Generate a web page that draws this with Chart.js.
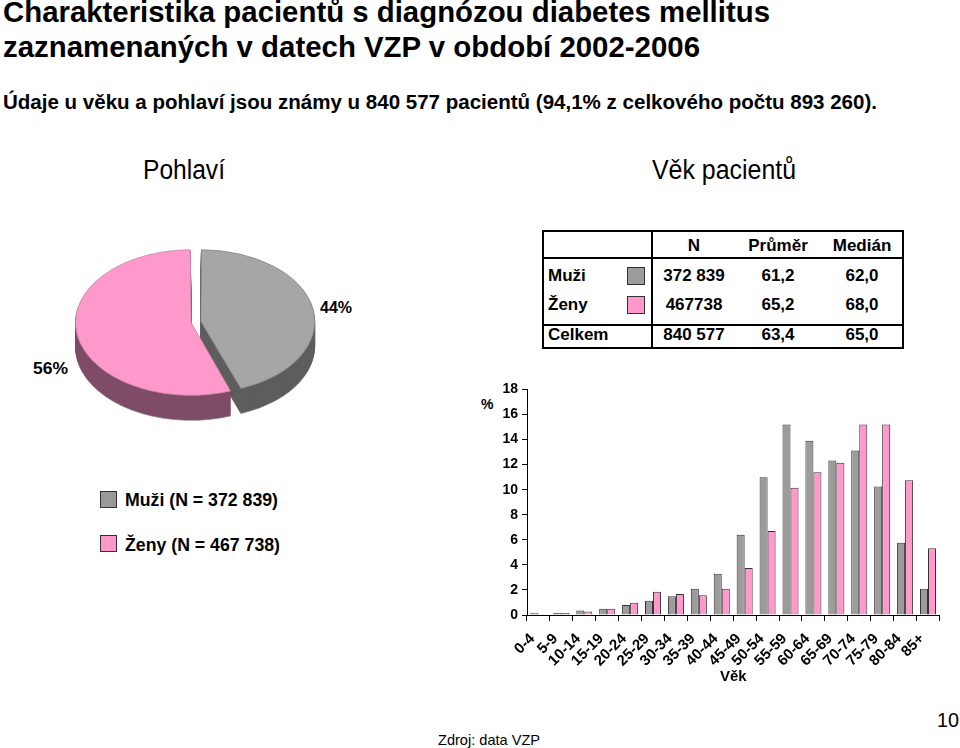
<!DOCTYPE html>
<html><head><meta charset="utf-8">
<script src="https://cdn.jsdelivr.net/npm/chart.js@4.4.0/dist/chart.umd.min.js"></script>
<style>
html,body{margin:0;padding:0;background:#fff;}
body{width:960px;height:748px;position:relative;overflow:hidden;font-family:"Liberation Sans",Arial,sans-serif;color:#000;}
.t{position:absolute;white-space:nowrap;line-height:1;transform-origin:0 0;}
.b{font-weight:bold;}
#pieWrap{position:absolute;left:75px;top:172px;width:242px;height:300px;}
#barWrap{position:absolute;left:470px;top:377px;width:480px;height:313px;}
.sw{position:absolute;width:17px;height:17px;box-sizing:border-box;border:1px solid #333;}
.ln{position:absolute;background:#000;}
</style>
</head><body>

<div class="t b" style="left:3px;top:-2px;font-size:29px" data-w="767">Charakteristika pacientů s diagnózou diabetes mellitus</div>
<div class="t b" style="left:3px;top:33px;font-size:29px" data-w="697">zaznamenaných v datech VZP v období 2002-2006</div>
<div class="t b" style="left:3px;top:92px;font-size:20px" data-w="874">Údaje u věku a pohlaví jsou známy u 840 577 pacientů (94,1% z celkového počtu 893 260).</div>

<div class="t" style="left:143px;top:157px;font-size:27px" data-w="82">Pohlaví</div>
<div class="t" style="left:652px;top:157px;font-size:27px" data-w="144">Věk pacientů</div>

<div id="pieWrap"><canvas id="pie"></canvas></div>

<div class="sw" style="left:100px;top:491px;background:#999999"></div>
<div class="sw" style="left:100px;top:535px;background:#FF99CC"></div>

<div id="table"></div>

<div class="t b" style="left:481px;top:397px;font-size:14px">%</div>
<div id="barWrap"><canvas id="bar"></canvas></div>

<div class="t" style="left:438px;top:732px;font-size:15px" data-w="102">Zdroj: data VZP</div>
<div class="t" style="left:937px;top:710px;font-size:20px" data-w="22">10</div>

<script>
// ---- data ----
const ageGroups = ['0-4','5-9','10-14','15-19','20-24','25-29','30-34','35-39','40-44','45-49','50-54','55-59','60-64','65-69','70-74','75-79','80-84','85+'];
const menPct   = [0.18,0.15,0.35,0.5,0.8,1.13,1.5,2.1,3.3,6.4,11.0,15.2,13.9,12.33,13.13,10.25,5.77,2.1];
const womenPct = [0.05,0.15,0.28,0.5,0.98,1.85,1.68,1.58,2.1,3.75,6.7,10.15,11.38,12.15,15.2,15.2,10.75,5.32];
const yTicks = [0,2,4,6,8,10,12,14,16,18];

const sexLabels = ['Muži','Ženy'];
const sexCounts = [372839, 467738];
const legendLabels = ['Muži (N = 372 839)','Ženy (N = 467 738)'];

const tableHeader = ['N','Průměr','Medián'];
const tableRows = ['Muži','Ženy','Celkem'];
const tableN = ['372 839','467738','840 577'];
const tableMean = ['61,2','65,2','63,4'];
const tableMedian = ['62,0','68,0','65,0'];

const GREY = '#9C9C9C', PINK = '#FF99CC';
const GREY_TOP = '#A6A6A6';
const GREY_SIDE = '#5E5E5E', PINK_SIDE = '#7F4C68';
const FONT = '"Liberation Sans", Arial, sans-serif';

// ---- html texts ----
function addText(parent, txt, style, w, cls){
  const d = document.createElement('div');
  d.className = 't ' + (cls||'');
  d.textContent = txt;
  d.setAttribute('style', style);
  if (w) d.dataset.w = w;
  parent.appendChild(d);
  return d;
}
const body = document.body;
const total = sexCounts[0] + sexCounts[1];
const pct = sexCounts.map(v => Math.round(v / total * 100) + '%');
addText(body, pct[0], 'left:320px;top:299px;font-size:17px', 32, 'b');
addText(body, pct[1], 'left:33px;top:360px;font-size:17px', 35, 'b');
addText(body, legendLabels[0], 'left:125px;top:491px;font-size:18px', 153, 'b');
addText(body, legendLabels[1], 'left:125px;top:536px;font-size:18px', 155, 'b');

// table
const tb = document.getElementById('table');
function line(l,t,w,h){const d=document.createElement('div');d.className='ln';d.style.cssText=`left:${l}px;top:${t}px;width:${w}px;height:${h}px`;tb.appendChild(d);}
line(542,230,362,2); line(542,347,362,2); line(542,230,2,119); line(902,230,2,119);
line(651,230,2,119); line(542,257,362,2); line(542,324,362,2);
const colX = [694, 778, 862];
const rowY = [268, 297, 327];
const TF = 'font-size:17px';
tableHeader.forEach((h,i)=> addText(tb, h, `left:${colX[i]-60}px;width:120px;text-align:center;top:237px;${TF}`, null, 'b'));
tableRows.forEach((r,i)=>{
  addText(tb, r, `left:548px;top:${rowY[i]-1}px;${TF}`, null, 'b');
  addText(tb, tableN[i], `left:${colX[0]-60}px;width:120px;text-align:center;top:${rowY[i]-1}px;${TF}`, null, 'b');
  addText(tb, tableMean[i], `left:${colX[1]-60}px;width:120px;text-align:center;top:${rowY[i]-1}px;${TF}`, null, 'b');
  addText(tb, tableMedian[i], `left:${colX[2]-60}px;width:120px;text-align:center;top:${rowY[i]-1}px;${TF}`, null, 'b');
});
[GREY, PINK].forEach((c,i)=>{const s=document.createElement('div');s.className='sw';s.style.cssText=`left:627px;top:${rowY[i]-1}px;width:18px;height:18px;background:${c}`;tb.appendChild(s);});

// fit widths
document.querySelectorAll('[data-w]').forEach(el=>{
  const w = el.getBoundingClientRect().width;
  if (w > 0) el.style.transform = `scaleX(${el.dataset.w / w})`;
});

// ---- pie (3D look) ----
const pie3d = {
  id: 'pie3d',
  beforeDatasetsDraw(chart, args, opts){
    const ctx = chart.ctx;
    const meta = chart.getDatasetMeta(0);
    const cx = meta.data[0].x, cy = meta.data[0].y;
    const k = opts.squash, depth = opts.depth;
    for (let d = depth; d >= 1; d--) {
      ctx.save();
      ctx.translate(0, d);
      ctx.translate(cx, cy); ctx.scale(1, k); ctx.translate(-cx, -cy);
      meta.data.forEach((arc, i) => {
        const saved = arc.options;
        const col = opts.sides[i];
        arc.options = Object.assign({}, saved, {backgroundColor: col, borderColor: (d === depth ? '#888' : col)});
        arc.draw(ctx);
        arc.options = saved;
      });
      ctx.restore();
    }
    ctx.save();
    ctx.translate(cx, cy); ctx.scale(1, k); ctx.translate(-cx, -cy);
  },
  afterDatasetsDraw(chart){ chart.ctx.restore(); }
};

new Chart(document.getElementById('pie'), {
  type: 'pie',
  data: { labels: sexLabels, datasets: [{ data: sexCounts, backgroundColor: [GREY_TOP, PINK], borderColor: ['#8A8A8A','#C98AAA'], borderWidth: 1, offset: 20 }] },
  options: {
    responsive: true, maintainAspectRatio: false, animation: false,
    layout: { padding: 0 },
    plugins: { legend: { display: false }, tooltip: { enabled: false }, pie3d: { squash: 0.63, depth: 25, sides: [GREY_SIDE, PINK_SIDE] } }
  },
  plugins: [pie3d]
});

// ---- bar ----
const tickFont = { family: FONT, size: 14, weight: 'bold' };
new Chart(document.getElementById('bar'), {
  type: 'bar',
  data: { labels: ageGroups, datasets: [
    { label: 'Muži', data: menPct, backgroundColor: GREY, borderColor: '#333', borderWidth: 1 },
    { label: 'Ženy', data: womenPct, backgroundColor: PINK, borderColor: '#333', borderWidth: 1 }
  ] },
  options: {
    responsive: true, maintainAspectRatio: false, animation: false,
    layout: { padding: { top: 0, right: 10, left: 0, bottom: 0 } },
    datasets: { bar: { categoryPercentage: 0.7, barPercentage: 1.0 } },
    plugins: { legend: { display: false }, tooltip: { enabled: false } },
    scales: {
      x: {
        grid: { display: true, drawOnChartArea: false, drawTicks: true, tickLength: 6, color: '#000', offset: true },
        border: { color: '#000', width: 1 },
        ticks: { font: { family: FONT, size: 15, weight: 'bold' }, color: '#000', maxRotation: 45, minRotation: 45, autoSkip: false, padding: 9, labelOffset: -6 },
        title: { display: true, text: 'Věk', color: '#000', font: { family: FONT, size: 15, weight: 'bold' }, padding: { top: 2, bottom: 4 } },
        afterFit(s) { s.height = 75; }
      },
      y: {
        min: 0, max: 18,
        afterBuildTicks(s) { s.ticks = yTicks.map(v => ({ value: v })); },
        grid: { drawOnChartArea: false, drawTicks: true, tickLength: 5, color: '#000' },
        border: { color: '#000', width: 1 },
        ticks: { font: tickFont, color: '#000', padding: 4 },
        afterFit(s) { s.width = 57; }
      }
    }
  }
});
</script>
</body></html>
